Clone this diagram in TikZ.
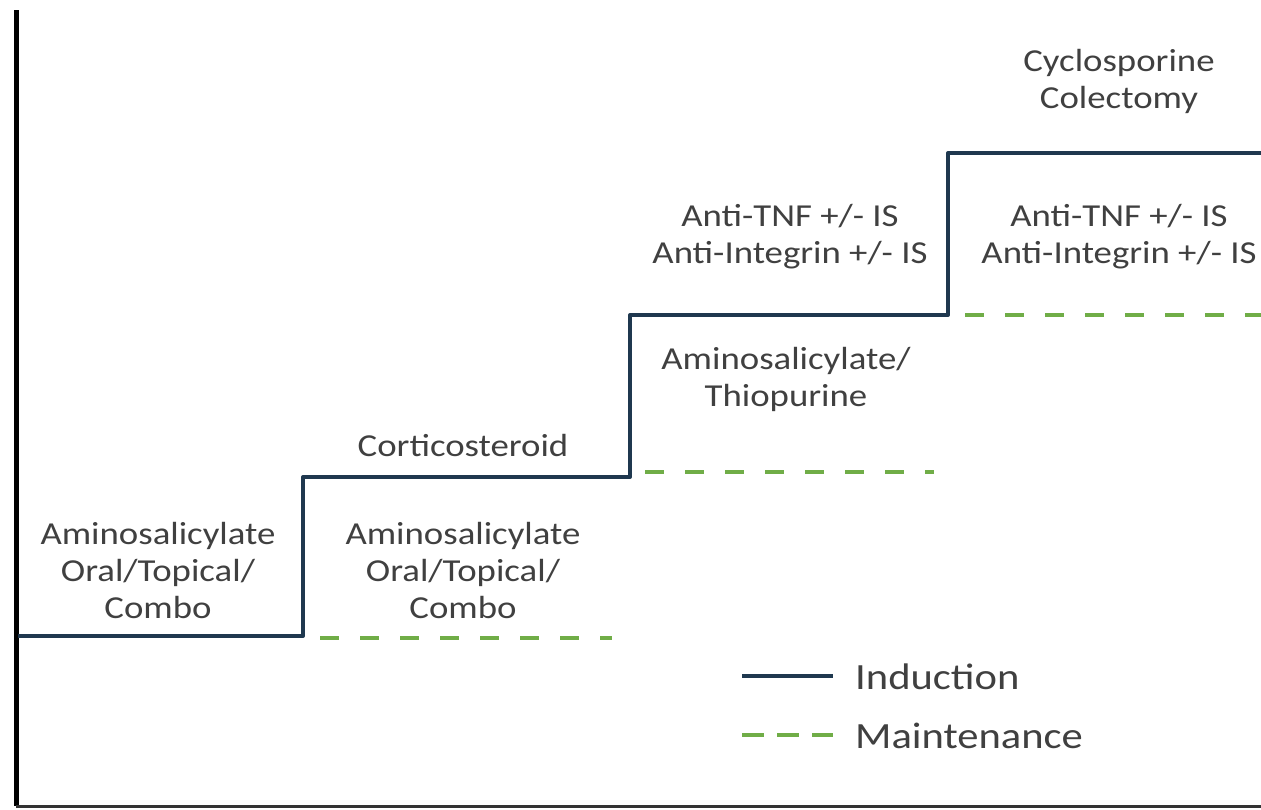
\documentclass[tikz,border=0pt]{standalone}
\usepackage{fontspec}
\setmainfont{Carlito}[FakeStretch=1.15]
\begin{document}
\begin{tikzpicture}[x=1pt,y=-1pt,
  induct/.style={draw=indcol,line width=4pt,line join=round},
  maint/.style={draw=maintcol,line width=4pt,dash pattern=on 19pt off 21pt},
  lbl/.style={text=txtcol,align=center,inner sep=0pt,font=\fontsize{32}{37}\selectfont},
  leg/.style={text=txtcol,anchor=west,inner sep=0pt,font=\fontsize{37}{40}\selectfont}]
\definecolor{indcol}{RGB}{31,56,79}
\definecolor{maintcol}{RGB}{112,173,71}
\definecolor{txtcol}{RGB}{64,64,64}
\useasboundingbox (0,0) rectangle (1261,809);
% axes
\coordinate (ytop) at (16,10);
\coordinate (orig) at (16,806);
\coordinate (xend) at (1261,806);
\draw[black,line width=5pt] (ytop) -- (orig);
\draw[black!80,line width=3pt] (orig) -- (xend);
% induction steps
\coordinate (s0) at (18,636);
\coordinate (s1) at (303,636);
\coordinate (s2) at (303,477);
\coordinate (s3) at (630,477);
\coordinate (s4) at (630,315);
\coordinate (s5) at (948,315);
\coordinate (s6) at (948,153);
\coordinate (s7) at (1261,153);
\draw[induct] (s0) -- (s1) -- (s2) -- (s3) -- (s4) -- (s5) -- (s6) -- (s7);
% maintenance lines
\coordinate (m1a) at (320,638); \coordinate (m1b) at (612,638);
\coordinate (m2a) at (645,472); \coordinate (m2b) at (934,472);
\coordinate (m3a) at (965,315); \coordinate (m3b) at (1261,315);
\draw[maint] (m1a) -- (m1b);
\draw[maint] (m2a) -- (m2b);
\draw[maint] (m3a) -- (m3b);
% labels
\node[lbl] (t1) at (158,570) {Aminosalicylate\\Oral/Topical/\\Combo};
\node[lbl] (t2) at (463,446) {Corticosteroid};
\node[lbl] (t3) at (463,570) {Aminosalicylate\\Oral/Topical/\\Combo};
\node[lbl] (t4) at (786,379) {Aminosalicylate/\\Thiopurine};
\node[lbl] (t5) at (790,237) {Anti-TNF +/- IS\\Anti-Integrin +/- IS};
\node[lbl] (t6) at (1119,237) {Anti-TNF +/- IS\\Anti-Integrin +/- IS};
\node[lbl] (t7) at (1119,81) {Cyclosporine\\Colectomy};
% legend
\coordinate (l1a) at (742,676); \coordinate (l1b) at (833,676);
\coordinate (l2a) at (742,735); \coordinate (l2b) at (833,735);
\draw[induct] (l1a) -- (l1b);
\draw[draw=maintcol,line width=4pt,dash pattern=on 22pt off 13pt] (l2a) -- (l2b);
\node[leg] (li) at (855,677) {Induction};
\node[leg] (lm) at (855,736) {Maintenance};
\end{tikzpicture}
\end{document}
